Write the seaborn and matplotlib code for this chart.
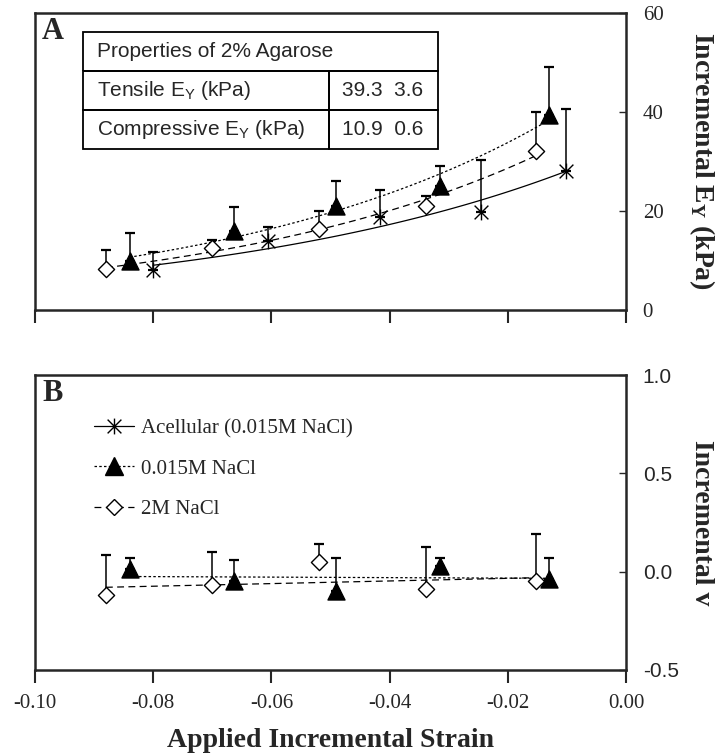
import numpy as np
import pandas as pd
import matplotlib.pyplot as plt
import seaborn as sns
from matplotlib.lines import Line2D
from matplotlib.path import Path

# Values
strain_acel = [-0.080, -0.0606, -0.0417, -0.0246, -0.0102]
strain_lo = [-0.084, -0.0663, -0.0491, -0.0314, -0.013]    # 0.015M NaCl
strain_hi = [-0.088, -0.070, -0.052, -0.0338, -0.0152]     # 2M NaCl

ey_acel = [8.1, 13.9, 18.8, 19.7, 28.0]
ey_acel_err = [3.7, 2.9, 5.5, 10.6, 12.6]
ey_lo = [10.0, 16.0, 21.0, 25.0, 39.4]
ey_lo_err = [5.5, 4.8, 5.1, 4.0, 9.6]
ey_hi = [8.3, 12.5, 16.3, 21.0, 32.2]
ey_hi_err = [3.8, 1.6, 3.8, 2.1, 7.8]

nu_lo = [0.012, -0.050, -0.098, 0.029, -0.039]
nu_lo_err = [0.056, 0.108, 0.169, 0.042, 0.110]
nu_hi = [-0.119, -0.069, 0.049, -0.090, -0.047]
nu_hi_err = [0.202, 0.169, 0.093, 0.215, 0.237]

series_labels = ['Acellular (0.015M NaCl)', '0.015M NaCl', '2M NaCl']
table_rows = [['Properties of 2% Agarose', ''],
              ['Tensile E$_\\mathregular{Y}$ (kPa)', '39.3  3.6'],
              ['Compressive E$_\\mathregular{Y}$ (kPa)', '10.9  0.6']]

sns.set_style('ticks')
plt.rcParams['font.family'] = ['Liberation Serif', 'DejaVu Sans']
plt.rcParams['font.size'] = 15
plt.rcParams['axes.unicode_minus'] = False

# asterisk marker: an X with a vertical stroke
star = Path([(-1, -1), (1, 1), (-1, 1), (1, -1), (0, -1.15), (0, 1.15)],
            [Path.MOVETO, Path.LINETO] * 3)

styles = {
    series_labels[0]: dict(marker=star, s=130, fc='k', ls='-'),
    series_labels[1]: dict(marker='^', s=150, fc='k', ls=(0, (2, 1.8))),
    series_labels[2]: dict(marker='D', s=68, fc='white', ls=(0, (5.5, 3.5))),
}


def draw_series(ax, x, y, err, label, fit):
    st = styles[label]
    x = np.array(x)
    y = np.array(y)
    ax.errorbar(x, y, yerr=[np.zeros(len(y)), err], fmt='none', ecolor='k',
                elinewidth=1.1, capsize=3.5, capthick=1.6, zorder=2)
    xf = np.linspace(x.min(), x.max(), 100)
    if fit == 'exp':
        coef = np.polyfit(x, np.log(y), 1)
        yf = np.exp(np.polyval(coef, xf))
    else:
        coef = np.polyfit(x, y, 1)
        yf = np.polyval(coef, xf)
    sns.lineplot(x=xf, y=yf, ax=ax, color='k', lw=0.9, linestyle=st['ls'], zorder=3)
    df = pd.DataFrame({'x': x, 'y': y})
    sns.scatterplot(data=df, x='x', y='y', ax=ax, marker=st['marker'], s=st['s'],
                    color=st['fc'], edgecolor='k', linewidth=1, zorder=4)


fig = plt.figure(figsize=(7.23, 7.55), dpi=100)
axA = fig.add_axes([0.0484, 0.5894, 0.8174, 0.3934])
axB = fig.add_axes([0.0484, 0.1126, 0.8174, 0.3907])

# Panel A
draw_series(axA, strain_acel, ey_acel, ey_acel_err, series_labels[0], 'exp')
draw_series(axA, strain_lo, ey_lo, ey_lo_err, series_labels[1], 'exp')
draw_series(axA, strain_hi, ey_hi, ey_hi_err, series_labels[2], 'exp')

# Panel B
draw_series(axB, strain_lo, nu_lo, nu_lo_err, series_labels[1], 'lin')
draw_series(axB, strain_hi, nu_hi, nu_hi_err, series_labels[2], 'lin')

for ax in (axA, axB):
    ax.set_xlim(-0.10, 0.0)
    ax.set_xticks([-0.10, -0.08, -0.06, -0.04, -0.02, 0.0])
    ax.yaxis.tick_right()
    ax.yaxis.set_label_position('right')
    for sp in ax.spines.values():
        sp.set_visible(True)
        sp.set_linewidth(1.8)
    ax.tick_params(axis='x', direction='out', length=9, width=1.5, pad=8)
    ax.tick_params(axis='y', direction='in', length=5, width=1, right=True,
                   left=False, pad=12)
    ax.set_xlabel('')

axA.set_ylim(0, 60)
axA.set_yticks([0, 20, 40, 60])
axA.tick_params(axis='x', labelbottom=False)
axA.set_ylabel('Incremental E$_\\mathregular{Y}$ (kPa)', fontsize=20,
               fontweight='bold', rotation=270, va='center', ha='center')
axA.yaxis.set_label_coords(1.128, 0.5)

axB.set_ylim(-0.5, 1.0)
axB.set_yticks([-0.5, 0.0, 0.5, 1.0])
axB.set_yticklabels(['-0.5', '0.0', '0.5', '1.0'], family='Liberation Sans')
axB.set_xticklabels(['-0.10', '-0.08', '-0.06', '-0.04', '-0.02', '0.00'])
axB.set_ylabel('Incremental v', fontsize=20, fontweight='bold', rotation=270,
               va='center', ha='center')
axB.yaxis.set_label_coords(1.128, 0.5)
axB.set_xlabel('Applied Incremental Strain', fontsize=20, fontweight='bold',
               labelpad=11)

axA.text(0.012, 0.985, 'A', transform=axA.transAxes, fontsize=22,
         fontweight='bold', va='top')
axB.text(0.012, 0.985, 'B', transform=axB.transAxes, fontsize=22,
         fontweight='bold', va='top')

# property table in panel A
tab = axA.table(cellText=table_rows, cellLoc='left', colWidths=[0.693, 0.307],
                bbox=[0.081, 0.542, 0.601, 0.394])
tab.auto_set_font_size(False)
tab.set_fontsize(15)
for (r, c), cell in tab.get_celld().items():
    cell.set_linewidth(1.3)
    cell.set_facecolor('none')
    cell.get_text().set_fontfamily('Liberation Sans')
    cell.PAD = 0.057 if c == 0 else 0.12
    if r == 0:
        cell.visible_edges = 'BTL' if c == 0 else 'BTR'

# legend in panel B
handles = [Line2D([0], [0], color='k', lw=0.9, ls=styles[lab]['ls'],
                  marker=styles[lab]['marker'], markersize=np.sqrt(styles[lab]['s']),
                  markerfacecolor=styles[lab]['fc'], markeredgecolor='k',
                  markeredgewidth=1)
           for lab in series_labels]
axB.legend(handles, series_labels, loc='upper left', bbox_to_anchor=(0.086, 0.88),
           frameon=False, fontsize=15, handlelength=1.9, handletextpad=0.35,
           labelspacing=1.0, borderaxespad=0, borderpad=0.4)

plt.savefig('out.png', dpi=100)
plt.close()
